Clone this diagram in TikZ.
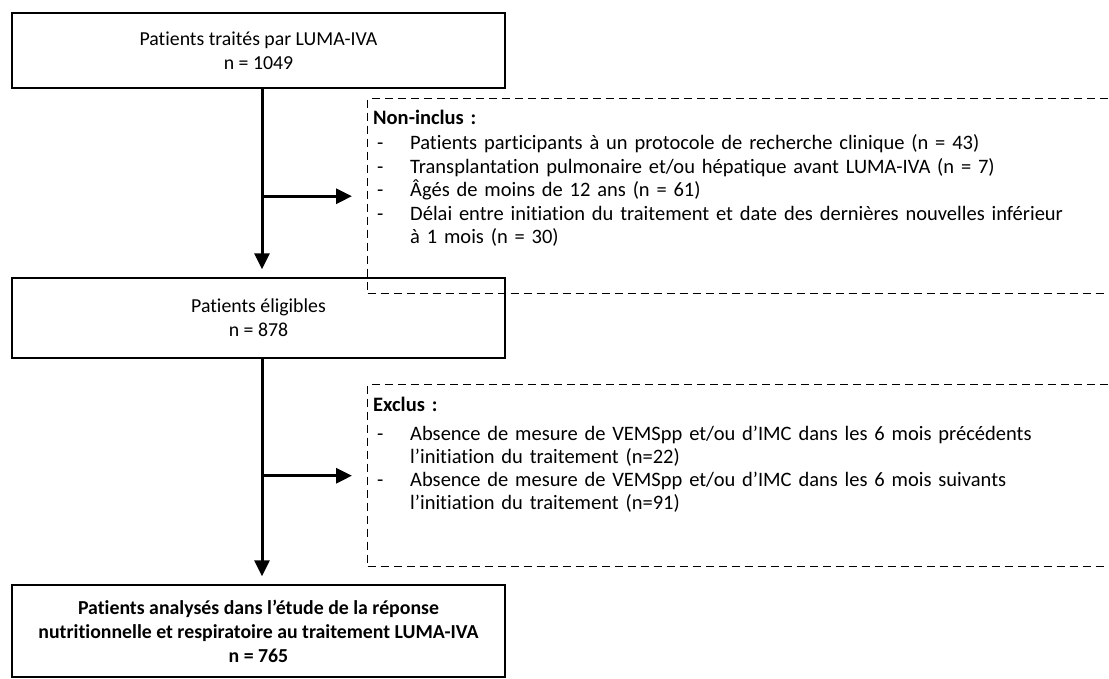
\documentclass[tikz,border=0pt]{standalone}
\usepackage{fontspec}
\setmainfont{Carlito}[Ligatures=CommonOff]
\usetikzlibrary{arrows.meta}
\newcommand{\itm}[1]{\par\noindent\hangindent=37pt\hangafter=1\hbox to 37pt{\hspace{4pt}-\hfill}#1}
\newcommand{\nl}{\hfil\break}
\tikzset{
  mainbox/.style={draw, line width=1.5pt, minimum width=493pt, inner sep=0pt, align=center,
    font=\fontsize{19.8}{24}\selectfont},
  dframe/.style={draw, dashed, dash pattern=on 8pt off 5pt, line width=1.4pt, anchor=north west,
    minimum width=760pt, inner sep=0pt},
  listtext/.style={anchor=base west, text width=757pt, inner sep=0pt, align=left,
    font=\fontsize{20.5}{23.5}\selectfont},
  flow/.style={line width=3pt, -{Triangle[length=16pt,width=15pt]}}
}
\begin{document}
\begin{tikzpicture}[x=1pt,y=-1pt]
\useasboundingbox (0,0) rectangle (1109,678);
\clip (0,0) rectangle (1109,678);
\node[mainbox, minimum height=75pt] (b1) at (258.5,50.5) {Patients traités par LUMA-IVA\\n = 1049};
\node[mainbox, minimum height=80pt] (b2) at (258.5,318) {Patients éligibles\\n = 878};
\node[mainbox, minimum height=92pt, font=\bfseries\fontsize{19.8}{24}\selectfont] (b3) at (258.5,631) {Patients analysés dans l’étude de la réponse\\nutritionnelle et respiratoire au traitement LUMA-IVA\\n = 765};

\node[dframe, minimum height=195pt] (d1) at (367,98) {};
\node[listtext] (t1) at (373,124) {\textbf{Non-inclus :}\par\vspace{2pt}
\itm{Patients participants à un protocole de recherche clinique (n = 43)}
\itm{Transplantation pulmonaire et/ou hépatique avant LUMA-IVA (n = 7)}
\itm{Âgés de moins de 12 ans (n = 61)}
\itm{\makebox[665pt][s]{Délai entre initiation du traitement et date des dernières nouvelles inférieur}\nl à 1 mois (n = 30)}\par};

\node[dframe, minimum height=182pt] (d2) at (367,384) {};
\node[listtext, font=\fontsize{20.5}{23}\selectfont] (t2) at (373,411) {\textbf{Exclus :}\par\vspace{6pt}
\itm{Absence de mesure de VEMSpp et/ou d’IMC dans les 6 mois précédents\nl l’initiation du traitement (n=22)}
\itm{Absence de mesure de VEMSpp et/ou d’IMC dans les 6 mois suivants\nl l’initiation du traitement (n=91)}\par};

\coordinate (j1) at (b1.south |- d1.west);
\coordinate (j2) at (b2.south |- d2.west);
\coordinate (a1) at ([xshift=-15pt]d1.west);
\coordinate (a2) at ([xshift=-15pt]d2.west);
\draw[flow] ([xshift=3.5pt]b1.south) -- ([xshift=3.5pt,yshift=8pt]b2.north);
\draw[flow] ([xshift=3.5pt]j1) -- (a1);
\draw[flow] ([xshift=3.5pt]b2.south) -- ([xshift=3.5pt,yshift=8pt]b3.north);
\draw[flow] ([xshift=3.5pt]j2) -- (a2);
\end{tikzpicture}
\end{document}
